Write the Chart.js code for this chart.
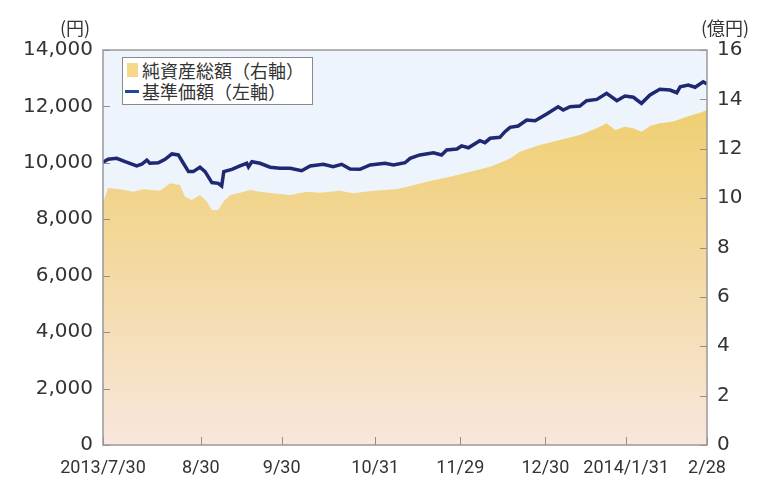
<!DOCTYPE html>
<html lang="ja">
<head>
<meta charset="utf-8">
<title>基準価額・純資産総額の推移</title>
<script src="https://cdn.jsdelivr.net/npm/chart.js@4.4.1/dist/chart.umd.min.js"></script>
<style>
  body { margin: 0; background: #fff; }
  #wrap { position: relative; width: 760px; height: 480px; font-family: "Noto Sans CJK JP", sans-serif; color: #333; }
  #chart { position: absolute; left: 0; top: 0; }
  .unit { position: absolute; font-size: 18px; line-height: 1; white-space: nowrap; }
  #legend { position: absolute; left: 122px; top: 57px; width: 189px; height: 46px; border: 1px solid #8a8a8a; background: #fff; font-size: 18px; }
  #legend .row { position: absolute; left: 19px; line-height: 1; white-space: nowrap; }
  #legend .sw { position: absolute; }
</style>
</head>
<body>
<div id="wrap">
  <canvas id="chart" width="760" height="480"></canvas>
  <div class="unit" style="left:60px; top:18px;">(円)</div>
  <div class="unit" style="left:701px; top:18px;">(億円)</div>
  <div id="legend">
    <div class="sw" style="left:4px; top:5px; width:11px; height:14px; background:#f5d88a;"></div>
    <div class="row" style="top:3px;">純資産総額（右軸）</div>
    <div class="sw" style="left:2px; top:32px; width:14px; height:3px; background:#1f4a9a;"></div>
    <div class="row" style="top:24px;">基準価額（左軸）</div>
  </div>
</div>
<script>
// x軸は営業日の通し番号 (2013/7/30 = 0)
const xLabels = ['2013/7/30', '8/30', '9/30', '10/31', '11/29', '12/30', '2014/1/31', '2/28'];
const xLabelDays = [0, 23, 42, 64, 84, 104, 123, 142];

// 基準価額 (円, 左軸)
const navDays = [0, 1.2, 3.2, 5.2, 7.9, 9.1, 10.3, 11, 13, 14.6, 16.2, 17.7, 18.9, 20.1, 21.2, 22.8, 24, 25.6, 27.1, 27.9,
  28.4, 30.3, 32.2, 33.8, 34.2, 35, 36.9, 39.3, 41.6, 44, 46.7, 48.7, 51.8, 54.1, 56.1, 58.1, 60.4, 62.8, 66.3, 68.3,
  71, 72.2, 74.5, 77.7, 79.6, 80.8, 83.2, 84.3, 85.9, 88.6, 89.8, 91, 93.3, 94.5, 95.7, 97.6, 99.6, 101.6, 104.3, 107,
  108.2, 109.8, 112.1, 113.7, 116.1, 118.4, 120.8, 122.7, 124.7, 126.6, 128.6, 130.9, 133.3, 134.9, 135.7, 137.6, 139.2, 141.1, 142];
const navValues = [10020, 10126, 10160, 10040, 9890, 9950, 10100, 9985, 10005, 10125, 10315, 10280, 9985, 9690, 9690, 9845, 9690, 9300, 9275, 9180,
  9690, 9770, 9890, 9985, 9855, 10040, 9985, 9845, 9805, 9805, 9720, 9890, 9950, 9865, 9950, 9780, 9770, 9925, 9985, 9925,
  10005, 10160, 10280, 10360, 10280, 10455, 10490, 10600, 10535, 10785, 10715, 10870, 10905, 11105, 11260, 11305, 11520, 11495, 11730, 11990,
  11875, 11990, 12015, 12205, 12250, 12465, 12205, 12370, 12325, 12110, 12405, 12605, 12580, 12485, 12700, 12760, 12680, 12875, 12795];

// 純資産総額 (億円, 右軸)
const assetDays = [0, 1.2, 4, 7.1, 9.5, 13.4, 15.8, 18.1, 19.3, 20.9, 22.8, 24.4, 25.6, 27.1, 28.3, 29.9, 32.2, 34.6, 36.9, 40,
  44, 47.9, 51, 55.7, 58.8, 63.5, 69, 72.2, 76.9, 81.6, 86.3, 91, 94.1, 95.7, 98, 102.7, 107.4, 112.1, 116.1, 118.4,
  120.4, 122.7, 124.7, 126.6, 128.6, 130.9, 134.1, 137.2, 140.4, 142];
const assetValues = [9.8, 10.41, 10.36, 10.26, 10.36, 10.30, 10.60, 10.53, 10.06, 9.92, 10.13, 9.86, 9.52, 9.52, 9.86, 10.13, 10.22, 10.33, 10.26, 10.20,
  10.13, 10.26, 10.22, 10.30, 10.20, 10.30, 10.36, 10.49, 10.69, 10.87, 11.07, 11.27, 11.48, 11.61, 11.88, 12.15, 12.35, 12.56, 12.83, 13.03,
  12.76, 12.89, 12.83, 12.69, 12.92, 13.03, 13.10, 13.30, 13.46, 13.57];

const toPoints = (xs, ys) => xs.map((x, i) => ({ x: x, y: ys[i] }));

// 背景・枠・内向きの目盛り
const framePlugin = {
  id: 'frame',
  beforeDatasetsDraw(chart) {
    const { ctx, chartArea: a } = chart;
    ctx.save();
    ctx.fillStyle = '#edf4fb';
    ctx.fillRect(a.left, a.top, a.right - a.left, a.bottom - a.top);
    ctx.restore();
  },
  afterDatasetsDraw(chart) {
    const { ctx, chartArea: a, scales } = chart;
    ctx.save();
    ctx.strokeStyle = '#8f8f8f';
    ctx.lineWidth = 1;
    ctx.beginPath();
    scales.y.ticks.forEach(t => {
      const y = Math.round(scales.y.getPixelForValue(t.value)) + 0.5;
      ctx.moveTo(a.left, y); ctx.lineTo(a.left + 7, y);
    });
    scales.y1.ticks.forEach(t => {
      const y = Math.round(scales.y1.getPixelForValue(t.value)) + 0.5;
      ctx.moveTo(a.right - 7, y); ctx.lineTo(a.right, y);
    });
    scales.x.ticks.forEach(t => {
      const x = Math.round(scales.x.getPixelForValue(t.value)) + 0.5;
      ctx.moveTo(x, a.bottom - 8); ctx.lineTo(x, a.bottom);
    });
    ctx.stroke();
    ctx.lineWidth = 1.5;
    ctx.strokeStyle = '#999';
    ctx.strokeRect(a.left, a.top, a.right - a.left, a.bottom - a.top);
    ctx.restore();
  }
};

const tickFont = { family: "'DejaVu Sans', sans-serif", size: 20 };

new Chart(document.getElementById('chart'), {
  type: 'line',
  data: {
    datasets: [{
      label: '基準価額（左軸）',
      data: toPoints(navDays, navValues),
      yAxisID: 'y',
      borderColor: '#1f2872',
      borderWidth: 3.5,
      pointRadius: 0,
      tension: 0,
      fill: false,
      order: 0
    }, {
      label: '純資産総額（右軸）',
      data: toPoints(assetDays, assetValues),
      yAxisID: 'y1',
      borderWidth: 0,
      pointRadius: 0,
      tension: 0,
      fill: 'origin',
      backgroundColor(c) {
        const a = c.chart.chartArea;
        if (!a) return '#f3d892';
        const g = c.chart.ctx.createLinearGradient(0, a.top + 60, 0, a.bottom);
        g.addColorStop(0, '#efcf72');
        g.addColorStop(0.45, '#f3d9a0');
        g.addColorStop(1, '#f9e6dd');
        return g;
      },
      order: 1
    }]
  },
  options: {
    responsive: false,
    devicePixelRatio: 1,
    animation: false,
    layout: { padding: { top: 50, right: 0, bottom: 0, left: 0 } },
    plugins: { legend: { display: false }, tooltip: { enabled: false } },
    scales: {
      x: {
        type: 'linear',
        min: 0,
        max: 142,
        afterBuildTicks: s => { s.ticks = xLabelDays.map(v => ({ value: v })); },
        afterFit: s => { s.height = 35; },
        grid: { display: false, drawTicks: false },
        border: { display: false },
        ticks: {
          autoSkip: false,
          maxRotation: 0,
          padding: 13,
          color: '#333',
          font: { family: 'Roboto, sans-serif', size: 18 },
          callback: v => xLabels[xLabelDays.indexOf(v)]
        }
      },
      y: {
        position: 'left',
        min: 0,
        max: 14000,
        afterFit: s => { s.width = 103; },
        grid: { display: false, drawTicks: false },
        border: { display: false },
        ticks: {
          stepSize: 2000,
          padding: 10,
          color: '#333',
          font: tickFont,
          callback: v => v.toLocaleString('en-US')
        }
      },
      y1: {
        position: 'right',
        min: 0,
        max: 16,
        afterFit: s => { s.width = 53; },
        grid: { display: false, drawTicks: false },
        border: { display: false },
        ticks: {
          stepSize: 2,
          padding: 10,
          color: '#333',
          font: tickFont
        }
      }
    }
  },
  plugins: [framePlugin]
});
</script>
</body>
</html>
